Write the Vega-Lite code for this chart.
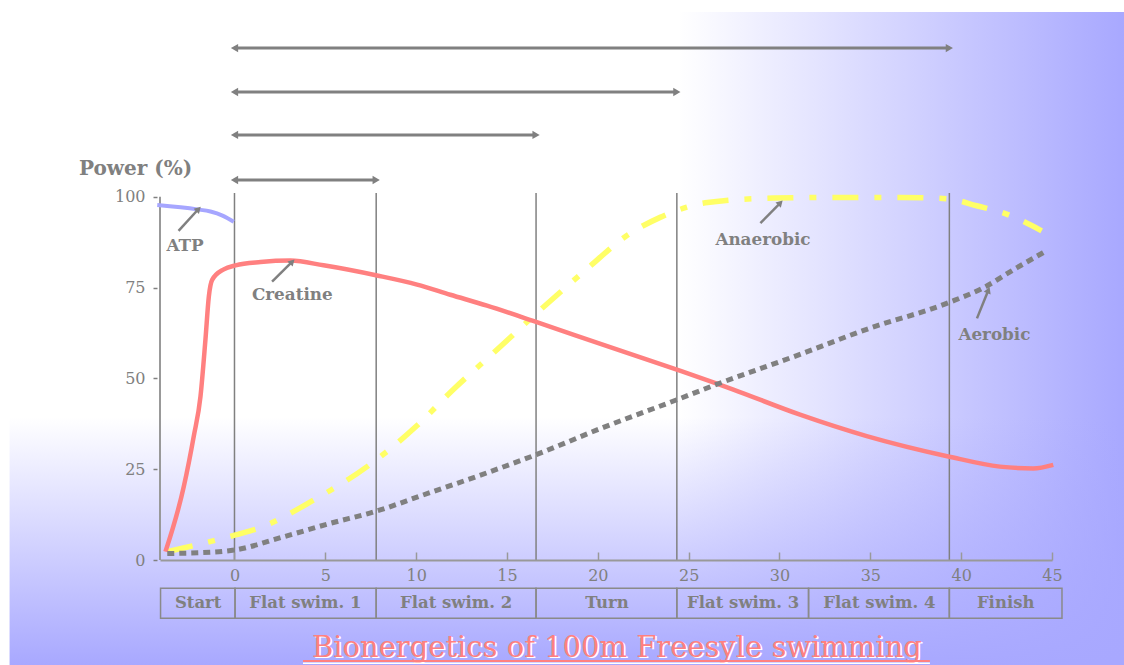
{
"$schema":"https://vega.github.io/schema/vega-lite/v6.json",
"width":892,"height":545,
"autosize":{"type":"none"},
"padding":{"left":160,"top":15,"right":72,"bottom":105},
"background":"#ffffff",
"config":{"view":{"stroke":null},"font":"DejaVu Serif","axis":{"grid":false}},
"datasets":{
"one":[{}],
"curves":[
{"series":"ATP","x":-4.25,"y":97.7},{"series":"ATP","x":-2.05,"y":96.5},{"series":"ATP","x":-1.32,"y":95.9},{"series":"ATP","x":-0.66,"y":94.8},{"series":"ATP","x":-0.04,"y":93.1},
{"series":"Creatine","x":-3.8,"y":2.3},{"series":"Creatine","x":-2.79,"y":20.2},{"series":"Creatine","x":-2.24,"y":34.1},{"series":"Creatine","x":-1.87,"y":45.1},{"series":"Creatine","x":-1.6,"y":60.6},{"series":"Creatine","x":-1.41,"y":72.6},{"series":"Creatine","x":-1.23,"y":77.1},{"series":"Creatine","x":-0.59,"y":80.0},{"series":"Creatine","x":0.06,"y":81.1},{"series":"Creatine","x":1.43,"y":82.0},{"series":"Creatine","x":3.08,"y":82.4},{"series":"Creatine","x":4.9,"y":81.1},{"series":"Creatine","x":7.85,"y":78.3},{"series":"Creatine","x":10.05,"y":75.8},{"series":"Creatine","x":11.88,"y":73.0},{"series":"Creatine","x":13.9,"y":70.0},{"series":"Creatine","x":16.56,"y":65.6},{"series":"Creatine","x":20.31,"y":59.2},{"series":"Creatine","x":24.35,"y":52.4},{"series":"Creatine","x":26.36,"y":48.9},{"series":"Creatine","x":27.46,"y":46.9},{"series":"Creatine","x":31.13,"y":40.0},{"series":"Creatine","x":34.8,"y":34.1},{"series":"Creatine","x":39.29,"y":28.5},{"series":"Creatine","x":42.13,"y":25.7},{"series":"Creatine","x":43.97,"y":25.2},{"series":"Creatine","x":45.07,"y":26.2},
{"series":"Anaerobic","x":-3.7,"y":2.3},{"series":"Anaerobic","x":-2.81,"y":3.3},{"series":"Anaerobic","x":0.06,"y":6.9},{"series":"Anaerobic","x":1.25,"y":8.6},{"series":"Anaerobic","x":4.36,"y":16.5},{"series":"Anaerobic","x":7.3,"y":25.7},{"series":"Anaerobic","x":10.05,"y":37.0},{"series":"Anaerobic","x":12.06,"y":47.0},{"series":"Anaerobic","x":14.26,"y":57.0},{"series":"Anaerobic","x":16.56,"y":67.6},{"series":"Anaerobic","x":19.4,"y":80.1},{"series":"Anaerobic","x":21.6,"y":89.3},{"series":"Anaerobic","x":23.43,"y":94.3},{"series":"Anaerobic","x":24.9,"y":97.1},{"series":"Anaerobic","x":25.91,"y":98.3},{"series":"Anaerobic","x":29.67,"y":99.6},{"series":"Anaerobic","x":32.97,"y":99.8},{"series":"Anaerobic","x":36.63,"y":99.8},{"series":"Anaerobic","x":39.29,"y":99.4},{"series":"Anaerobic","x":40.85,"y":97.5},{"series":"Anaerobic","x":42.5,"y":95.2},{"series":"Anaerobic","x":44.43,"y":90.6},
{"series":"Aerobic","x":-3.7,"y":1.8},{"series":"Aerobic","x":-1.87,"y":2.0},{"series":"Aerobic","x":0.06,"y":2.8},{"series":"Aerobic","x":2.71,"y":6.4},{"series":"Aerobic","x":5.28,"y":10.1},{"series":"Aerobic","x":7.85,"y":13.5},{"series":"Aerobic","x":10.22,"y":17.6},{"series":"Aerobic","x":13.9,"y":24.0},{"series":"Aerobic","x":16.56,"y":28.9},{"series":"Aerobic","x":20.31,"y":36.5},{"series":"Aerobic","x":24.35,"y":44.1},{"series":"Aerobic","x":26.36,"y":48.0},{"series":"Aerobic","x":31.13,"y":56.6},{"series":"Aerobic","x":34.8,"y":63.5},{"series":"Aerobic","x":39.29,"y":70.8},{"series":"Aerobic","x":41.22,"y":74.9},{"series":"Aerobic","x":43.05,"y":80.4},{"series":"Aerobic","x":44.52,"y":84.6}
],
"phases":[
{"phase":"Start","start":-4.07,"end":0.03,"mid":-2.0},
{"phase":"Flat swim. 1","start":0.03,"end":7.8,"mid":3.9},
{"phase":"Flat swim. 2","start":7.8,"end":16.6,"mid":12.2},
{"phase":"Turn","start":16.6,"end":24.35,"mid":20.5},
{"phase":"Flat swim. 3","start":24.35,"end":31.6,"mid":28.0},
{"phase":"Flat swim. 4","start":31.6,"end":39.35,"mid":35.5},
{"phase":"Finish","start":39.35,"end":45.55,"mid":42.45}
],
"bounds":[{"x":0},{"x":7.8},{"x":16.6},{"x":24.35},{"x":39.35}],
"spans":[{"x":0,"x2":39.35,"y":140.9},{"x":0,"x2":24.35,"y":128.8},{"x":0,"x2":16.6,"y":117.0},{"x":0,"x2":7.8,"y":104.6}],
"notes":[
{"label":"ATP","tx":-3.08,"ty":90.6,"hx":-1.98,"hy":96.6,"lx":-2.72,"ly":86.5},
{"label":"Creatine","tx":2.07,"ty":76.6,"hx":3.18,"hy":82.1,"lx":3.18,"ly":72.9},
{"label":"Anaerobic","tx":28.95,"ty":92.7,"hx":30.05,"hy":98.3,"lx":29.09,"ly":88.1},
{"label":"Aerobic","tx":40.87,"ty":66.5,"hx":41.5,"hy":74.3,"lx":41.83,"ly":61.9}
]
},
"layer":[
{"data":{"name":"one"},"mark":{"type":"rect","fill":{"gradient":"linear","x1":0,"y1":0,"x2":1,"y2":0,"stops":[{"offset":0,"color":"#ffffff"},{"offset":0.6,"color":"#ffffff"},{"offset":1,"color":"#a8a8ff"}]}},
 "encoding":{"x":{"datum":-12.38,"type":"quantitative","scale":{"domain":[-4.1,45],"nice":false,"zero":false}},"x2":{"datum":48.98},"y":{"datum":150.8,"type":"quantitative","scale":{"domain":[0,150],"nice":false,"zero":false}},"y2":{"datum":-28.9}}},
{"data":{"name":"one"},"mark":{"type":"rect","fill":{"gradient":"linear","x1":0,"y1":0,"x2":0,"y2":1,"stops":[{"offset":0,"color":"rgba(168,168,255,0)"},{"offset":0.62,"color":"rgba(168,168,255,0)"},{"offset":1,"color":"rgba(168,168,255,1)"}]}},
 "encoding":{"x":{"datum":-12.38,"type":"quantitative","scale":{"domain":[-4.1,45],"nice":false,"zero":false}},"x2":{"datum":48.98},"y":{"datum":150.8,"type":"quantitative","scale":{"domain":[0,150],"nice":false,"zero":false}},"y2":{"datum":-28.9}}},
{"data":{"name":"bounds"},"mark":{"type":"rule","color":"#808080","strokeWidth":1.5},
 "encoding":{"x":{"field":"x","type":"quantitative","scale":{"domain":[-4.1,45],"nice":false,"zero":false}},"y":{"datum":0,"type":"quantitative","scale":{"domain":[0,150],"nice":false,"zero":false}},"y2":{"datum":101}}},
{"data":{"name":"one"},"mark":{"type":"rule","color":"#999999","strokeWidth":2},
 "encoding":{"x":{"datum":-4.1,"type":"quantitative","scale":{"domain":[-4.1,45],"nice":false,"zero":false}},"y":{"datum":0,"type":"quantitative","scale":{"domain":[0,150],"nice":false,"zero":false}},"y2":{"datum":100}}},
{"data":{"name":"curves"},"transform":[{"filter":"datum.series === 'ATP'"}],"mark":{"type":"line","color":"#a6a6ff","strokeWidth":4,"interpolate":"monotone"},
 "encoding":{"x":{"field":"x","type":"quantitative","scale":{"domain":[-4.1,45],"nice":false,"zero":false},
   "axis":{"values":[0,5,10,15,20,25,30,35,40,45],"title":null,"domainColor":"#999999","domainWidth":2,"tickColor":"#999999","tickWidth":1.5,"tickSize":-8,"labelPadding":15,"labelFont":"DejaVu Serif","labelFontSize":16,"labelColor":"#808080","labelFlush":false,"labelOverlap":false,"grid":false,"zindex":1}},
  "y":{"field":"y","type":"quantitative","scale":{"domain":[0,150],"nice":false,"zero":false},
   "axis":{"values":[0,25,50,75,100],"domain":false,"offset":3,"tickSize":4,"tickColor":"#808080","tickWidth":1.5,"labelFont":"DejaVu Serif","labelFontSize":16,"labelColor":"#808080","labelPadding":8,"grid":false,"title":"Power (%)","titleFont":"DejaVu Serif","titleFontSize":20,"titleFontWeight":"bold","titleColor":"#808080","titleAngle":0,"titleX":-22,"titleY":153,"titleAlign":"center","titleBaseline":"middle","zindex":1}}}},
{"data":{"name":"curves"},"transform":[{"filter":"datum.series === 'Anaerobic'"}],"mark":{"type":"line","color":"#ffff66","strokeWidth":5.5,"strokeDash":[26,16,7,16],"interpolate":"monotone"},
 "encoding":{"x":{"field":"x","type":"quantitative","scale":{"domain":[-4.1,45],"nice":false,"zero":false}},"y":{"field":"y","type":"quantitative","scale":{"domain":[0,150],"nice":false,"zero":false}}}},
{"data":{"name":"curves"},"transform":[{"filter":"datum.series === 'Creatine'"}],"mark":{"type":"line","color":"#ff8080","strokeWidth":4.5,"interpolate":"monotone"},
 "encoding":{"x":{"field":"x","type":"quantitative","scale":{"domain":[-4.1,45],"nice":false,"zero":false}},"y":{"field":"y","type":"quantitative","scale":{"domain":[0,150],"nice":false,"zero":false}}}},
{"data":{"name":"curves"},"transform":[{"filter":"datum.series === 'Aerobic'"}],"mark":{"type":"line","color":"#808080","strokeWidth":5,"strokeDash":[7,5],"interpolate":"monotone"},
 "encoding":{"x":{"field":"x","type":"quantitative","scale":{"domain":[-4.1,45],"nice":false,"zero":false}},"y":{"field":"y","type":"quantitative","scale":{"domain":[0,150],"nice":false,"zero":false}}}},
{"data":{"name":"spans"},"mark":{"type":"rule","color":"#808080","strokeWidth":3},
 "encoding":{"x":{"field":"x","type":"quantitative","scale":{"domain":[-4.1,45],"nice":false,"zero":false}},"x2":{"field":"x2"},"y":{"field":"y","type":"quantitative","scale":{"domain":[0,150],"nice":false,"zero":false}}}},
{"data":{"name":"spans"},"mark":{"type":"point","shape":"triangle-left","filled":true,"size":70,"color":"#808080","opacity":1},
 "encoding":{"x":{"field":"x","type":"quantitative","scale":{"domain":[-4.1,45],"nice":false,"zero":false}},"y":{"field":"y","type":"quantitative","scale":{"domain":[0,150],"nice":false,"zero":false}}}},
{"data":{"name":"spans"},"mark":{"type":"point","shape":"triangle-right","filled":true,"size":70,"color":"#808080","opacity":1},
 "encoding":{"x":{"field":"x2","type":"quantitative","scale":{"domain":[-4.1,45],"nice":false,"zero":false}},"y":{"field":"y","type":"quantitative","scale":{"domain":[0,150],"nice":false,"zero":false}}}},
{"data":{"name":"notes"},"mark":{"type":"rule","color":"#808080","strokeWidth":2.5},
 "encoding":{"x":{"field":"tx","type":"quantitative","scale":{"domain":[-4.1,45],"nice":false,"zero":false}},"x2":{"field":"hx"},"y":{"field":"ty","type":"quantitative","scale":{"domain":[0,150],"nice":false,"zero":false}},"y2":{"field":"hy"}}},
{"data":{"name":"notes"},"transform":[{"filter":"datum.label !== 'Aerobic'"}],"mark":{"type":"point","shape":"triangle-up","angle":44,"filled":true,"size":55,"color":"#808080","opacity":1},
 "encoding":{"x":{"field":"hx","type":"quantitative","scale":{"domain":[-4.1,45],"nice":false,"zero":false}},"y":{"field":"hy","type":"quantitative","scale":{"domain":[0,150],"nice":false,"zero":false}}}},
{"data":{"name":"notes"},"transform":[{"filter":"datum.label === 'Aerobic'"}],"mark":{"type":"point","shape":"triangle-up","angle":22,"filled":true,"size":55,"color":"#808080","opacity":1},
 "encoding":{"x":{"field":"hx","type":"quantitative","scale":{"domain":[-4.1,45],"nice":false,"zero":false}},"y":{"field":"hy","type":"quantitative","scale":{"domain":[0,150],"nice":false,"zero":false}}}},
{"data":{"name":"notes"},"mark":{"type":"text","font":"DejaVu Serif","fontSize":16.8,"fontWeight":"bold","color":"#808080","align":"center","baseline":"middle"},
 "encoding":{"x":{"field":"lx","type":"quantitative","scale":{"domain":[-4.1,45],"nice":false,"zero":false}},"y":{"field":"ly","type":"quantitative","scale":{"domain":[0,150],"nice":false,"zero":false}},"text":{"field":"label"}}},
{"data":{"name":"phases"},"mark":{"type":"rect","fill":"transparent","stroke":"#8a8a8a","strokeWidth":1.5},
 "encoding":{"x":{"field":"start","type":"quantitative","scale":{"domain":[-4.1,45],"nice":false,"zero":false}},"x2":{"field":"end"},"y":{"datum":-7.79,"type":"quantitative","scale":{"domain":[0,150],"nice":false,"zero":false}},"y2":{"datum":-16.05}}},
{"data":{"name":"phases"},"mark":{"type":"text","font":"DejaVu Serif","fontSize":16.5,"fontWeight":"bold","color":"#808080","align":"center","baseline":"middle"},
 "encoding":{"x":{"field":"mid","type":"quantitative","scale":{"domain":[-4.1,45],"nice":false,"zero":false}},"y":{"datum":-11.84,"type":"quantitative","scale":{"domain":[0,150],"nice":false,"zero":false}},"text":{"field":"phase"}}},
{"data":{"name":"one"},"mark":{"type":"text","font":"DejaVu Serif","fontSize":29,"color":"#ffffff","align":"center","baseline":"alphabetic","dx":1.5,"dy":1.5,"text":"Bionergetics of 100m Freesyle swimming"},
 "encoding":{"x":{"datum":21.05,"type":"quantitative","scale":{"domain":[-4.1,45],"nice":false,"zero":false}},"y":{"datum":-26.6,"type":"quantitative","scale":{"domain":[0,150],"nice":false,"zero":false}}}},
{"data":{"name":"one"},"mark":{"type":"text","font":"DejaVu Serif","fontSize":29,"color":"#ff8080","align":"center","baseline":"alphabetic","text":"Bionergetics of 100m Freesyle swimming"},
 "encoding":{"x":{"datum":21.05,"type":"quantitative","scale":{"domain":[-4.1,45],"nice":false,"zero":false}},"y":{"datum":-26.6,"type":"quantitative","scale":{"domain":[0,150],"nice":false,"zero":false}}}},
{"data":{"name":"one"},"mark":{"type":"rule","color":"#ffffff","strokeWidth":1.5},
 "encoding":{"x":{"datum":3.77,"type":"quantitative","scale":{"domain":[-4.1,45],"nice":false,"zero":false}},"x2":{"datum":38.28},"y":{"datum":-28.4,"type":"quantitative","scale":{"domain":[0,150],"nice":false,"zero":false}}}},
{"data":{"name":"one"},"mark":{"type":"rule","color":"#ff8080","strokeWidth":2},
 "encoding":{"x":{"datum":3.77,"type":"quantitative","scale":{"domain":[-4.1,45],"nice":false,"zero":false}},"x2":{"datum":38.28},"y":{"datum":-27.8,"type":"quantitative","scale":{"domain":[0,150],"nice":false,"zero":false}}}}
]
}
